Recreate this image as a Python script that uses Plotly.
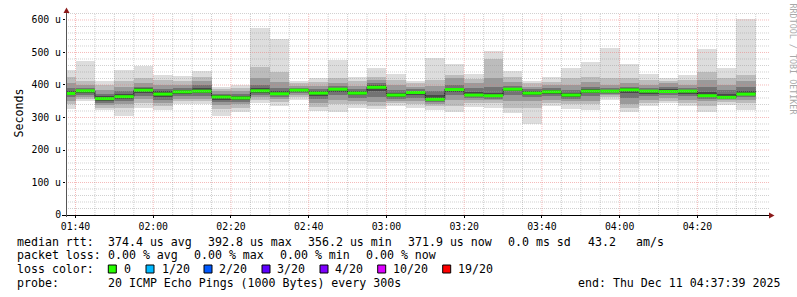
import plotly.graph_objects as go

# ---------------- data ----------------
bar_end = ["01:40", "01:45", "01:50", "01:55", "02:00", "02:05", "02:10", "02:15", "02:20",
           "02:25", "02:30", "02:35", "02:40", "02:45", "02:50", "02:55", "03:00", "03:05",
           "03:10", "03:15", "03:20", "03:25", "03:30", "03:35", "03:40", "03:45", "03:50",
           "03:55", "04:00", "04:05", "04:10", "04:15", "04:20", "04:25", "04:30", "04:35"]

median = [374, 382, 358, 364, 384, 372, 379, 381, 363, 360, 382, 373, 384, 375, 387, 375, 393, 369,
          377, 356, 386, 369, 367, 387, 375, 379, 369, 381, 381, 385, 381, 380, 381, 367, 362, 372]

lo1 = [325, 351, 322, 305, 329, 322, 343, 341, 305, 318, 346, 336, 354, 320, 317, 329, 325, 336,
       328, 322, 317, 333, 329, 313, 281, 336, 325, 322, 354, 317, 336, 344, 336, 317, 339, 322]
hi1 = [445, 474, 413, 445, 458, 431, 428, 442, 395, 399, 575, 543, 413, 421, 477, 426, 451, 433,
       413, 482, 464, 435, 504, 443, 413, 424, 451, 471, 513, 464, 434, 421, 431, 510, 451, 602]
lo2 = [340, 358, 330, 330, 345, 335, 350, 350, 325, 330, 355, 348, 362, 332, 340, 340, 335, 345,
       340, 335, 335, 345, 345, 330, 330, 345, 340, 340, 362, 330, 345, 352, 345, 335, 347, 345]
hi2 = [425, 412, 400, 412, 420, 415, 413, 425, 388, 392, 455, 440, 405, 410, 420, 412, 425, 415,
       405, 415, 430, 418, 480, 425, 405, 410, 420, 425, 420, 420, 415, 412, 415, 440, 420, 430]
lo3 = [352, 364, 338, 343, 356, 345, 358, 358, 338, 340, 362, 356, 368, 345, 355, 350, 348, 352,
       350, 343, 355, 353, 353, 350, 350, 355, 350, 352, 368, 342, 355, 360, 355, 350, 353, 355]
hi3 = [405, 400, 385, 395, 405, 400, 400, 412, 380, 383, 420, 410, 398, 398, 405, 398, 415, 400,
       395, 398, 420, 405, 420, 410, 395, 400, 400, 410, 400, 405, 400, 405, 400, 415, 400, 412]
lo4 = [362, 370, 345, 352, 366, 355, 365, 366, 348, 347, 368, 363, 374, 356, 368, 360, 362, 358,
       360, 349, 370, 360, 358, 370, 362, 365, 358, 365, 373, 360, 365, 368, 365, 358, 357, 362]
hi4 = [392, 392, 372, 380, 395, 388, 390, 400, 372, 372, 400, 392, 392, 388, 396, 388, 405, 385,
       387, 380, 400, 390, 395, 398, 387, 390, 385, 395, 390, 395, 392, 395, 390, 395, 385, 395]
lo5 = [368, 376, 352, 358, 375, 363, 372, 374, 355, 353, 375, 368, 379, 366, 378, 368, 380, 363,
       368, 353, 378, 365, 362, 380, 370, 372, 364, 374, 377, 375, 373, 375, 372, 363, 360, 368]
hi5 = [382, 386, 365, 372, 390, 380, 385, 390, 368, 366, 390, 380, 388, 381, 391, 380, 400, 375,
       382, 368, 392, 377, 375, 392, 381, 384, 376, 388, 385, 390, 386, 387, 385, 378, 372, 383]

x_tick_labels = ["01:40", "02:00", "02:20", "02:40", "03:00", "03:20", "03:40", "04:00", "04:20"]
y_tick_vals = [0, 100, 200, 300, 400, 500, 600]
y_tick_text = ["0", "100 u", "200 u", "300 u", "400 u", "500 u", "600 u"]

loss_labels = ["0", "1/20", "2/20", "3/20", "4/20", "10/20", "19/20"]
loss_colors = ["#26ff00", "#00b8ff", "#0059ff", "#5e00ff", "#7e00ff", "#dd00ff", "#ff0000"]

legend_rows = [
    [("median rtt:", 16), ("374.4 us avg", 107.3), ("392.8 us max", 207.3), ("356.2 us min", 307.3),
     ("371.9 us now", 407.3), ("0.0 ms sd", 507.3), ("43.2", 586.7), ("am/s", 635)],
    [("packet loss:", 16), ("0.00 % avg", 107.3), ("0.00 % max", 193.3), ("0.00 % min", 279.3),
     ("0.00 % now", 365.3)],
]
probe_text = "20 ICMP Echo Pings (1000 Bytes) every 300s"
end_text = "end: Thu Dec 11 04:37:39 2025"

# ---------------- geometry ----------------
W, H = 797, 297
ML, MR, MT, MB = 66, 28, 13, 82
PL, PR, PT, PB = ML, W - MR, MT, H - MB
X0, X1 = 97.556, 278.42
Y0, Y1 = 0, 621.5
MONO = "DejaVu Sans Mono"


def tmin(s):
    h, m = s.split(":")
    return int(h) * 60 + int(m)


def px(p):
    return (p - PL) / (PR - PL)


def py(p):
    return (PB - p) / (PB - PT)


ends = [tmin(s) for s in bar_end]
step = 5
starts = [e - step for e in ends]
centers = [e - step / 2 for e in ends]

fig = go.Figure()

layers = [(lo1, hi1, "#dddddd"), (lo2, hi2, "#bcbcbc"), (lo3, hi3, "#9a9a9a"),
          (lo4, hi4, "#737373"), (lo5, hi5, "#484848")]
for lo, hi, col in layers:
    fig.add_trace(go.Bar(x=centers, y=[h - l for l, h in zip(lo, hi)], base=lo, width=step,
                         marker=dict(color=col, line=dict(width=0)), hoverinfo="skip",
                         showlegend=False))

# dark step median line
fig.add_trace(go.Scatter(x=starts + [ends[-1]], y=median + [median[-1]], mode="lines",
                         line=dict(color="#202020", width=1, shape="hv"), showlegend=False,
                         hoverinfo="skip"))
# green loss-colored median segments
gx, gy = [], []
for s, e, m in zip(starts, ends, median):
    gx += [s, e, None]
    gy += [m, m, None]
fig.add_trace(go.Scatter(x=gx, y=gy, mode="lines", line=dict(color=loss_colors[0], width=3),
                         showlegend=False, hoverinfo="skip"))

shapes = []
DASH = "1px,1px"
MAJ = "rgba(235,120,120,0.5)"
MIN = "rgba(150,150,150,0.45)"
# grid (on top of data, like rrdtool)
for v in range(20, 621, 20):
    major = v % 100 == 0
    shapes.append(dict(type="line", xref="paper", yref="y", x0=0, x1=1, y0=v, y1=v, layer="above",
                       line=dict(color=MAJ if major else MIN, width=1, dash=DASH)))
for t in range(100, 276, 5):
    major = t % 20 == 0
    shapes.append(dict(type="line", xref="x", yref="paper", x0=t, x1=t, y0=0, y1=1, layer="above",
                       line=dict(color=MAJ if major else MIN, width=1, dash=DASH)))
# axes
shapes.append(dict(type="line", xref="paper", yref="paper", x0=px(62), x1=px(770), y0=py(215.5),
                   y1=py(215.5), line=dict(color="#000000", width=1), layer="above"))
shapes.append(dict(type="line", xref="paper", yref="paper", x0=px(66.5), x1=px(66.5), y0=py(217),
                   y1=py(11), line=dict(color="#555555", width=1), layer="above"))
# arrows
shapes.append(dict(type="path", xref="paper", yref="paper",
                   path=f"M {px(63.5)} {py(13)} L {px(69.5)} {py(13)} L {px(66.5)} {py(7.5)} Z",
                   fillcolor="#8b1a1a", line=dict(width=0), layer="above"))
shapes.append(dict(type="path", xref="paper", yref="paper",
                   path=f"M {px(769)} {py(212.5)} L {px(769)} {py(218.5)} L {px(774.5)} {py(215.5)} Z",
                   fillcolor="#8b1a1a", line=dict(width=0), layer="above"))

# loss color squares
sq_left = [108.3, 146, 204, 262, 320, 377.7, 442.7]
txt_left = [123.3, 160.7, 218.3, 276, 334.3, 392, 457.3]
for xl, col in zip(sq_left, loss_colors):
    shapes.append(dict(type="rect", xref="paper", yref="paper", x0=px(xl), x1=px(xl + 8),
                       y0=py(273), y1=py(265), fillcolor=col, line=dict(color="#000000", width=1)))

annotations = []


def txt(s, x, y, size=11.6, anchor="left", color="#000000", angle=0, family=MONO):
    annotations.append(dict(text=s, x=px(x), y=py(y), xref="paper", yref="paper", showarrow=False,
                            xanchor=anchor, yanchor="middle", textangle=angle, borderpad=0,
                            font=dict(family=family, size=size, color=color)))


rows_y = [241.7, 255.3]
for row, yy in zip(legend_rows, rows_y):
    for s, xx in row:
        txt(s, xx, yy)
txt("loss color:", 16, 269)
for lab, xx in zip(loss_labels, txt_left):
    txt(lab, xx, 269)
txt("probe:", 16, 283)
txt(probe_text, 107.3, 283)
txt(end_text, 780.5, 283, anchor="right")
txt("Seconds", 10.5, 113, angle=-90)
txt("RRDTOOL / TOBI OETIKER", 787, 59.5, size=8.4, color="#a8a8a8", angle=90)

fig.update_layout(
    width=W, height=H, margin=dict(l=ML, r=MR, t=MT, b=MB, pad=0),
    paper_bgcolor="#ffffff", plot_bgcolor="#ffffff", barmode="overlay", bargap=0,
    showlegend=False, shapes=shapes, annotations=annotations,
    xaxis=dict(range=[X0, X1], tickvals=[tmin(s) for s in x_tick_labels], ticktext=x_tick_labels,
               showgrid=False, zeroline=False, showline=False, ticks="outside", ticklen=2,
               tickcolor="#000000", tickfont=dict(family=MONO, size=9.8, color="#000000")),
    yaxis=dict(range=[Y0, Y1], tickvals=y_tick_vals, ticktext=y_tick_text, showgrid=False,
               zeroline=False, showline=False, ticks="outside", ticklen=2, tickcolor="#000000",
               tickfont=dict(family=MONO, size=9.8, color="#000000")),
)

fig.write_html("out.html")
